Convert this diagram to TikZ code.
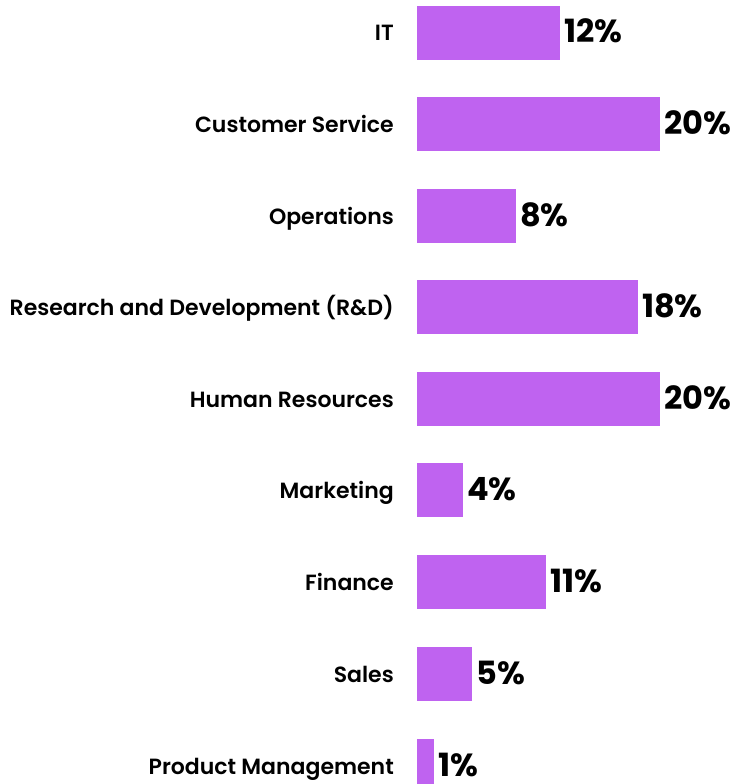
\documentclass[tikz,border=0pt]{standalone}
\usepackage{fontspec}
\setmainfont{Poppins}
\newfontfamily\labfont{Poppins}[UprightFont=* SemiBold]
\newfontfamily\pctfont{Poppins}[UprightFont=* Bold]
\definecolor{barc}{HTML}{BF63F0}
\begin{document}
\begin{tikzpicture}[x=1pt,y=-1pt,
  bar/.style={fill=barc,draw=none},
  cat/.style={anchor=base east,inner sep=0pt,font=\labfont\fontsize{22}{26}\selectfont},
  pct/.style={anchor=base west,inner sep=0pt,font=\pctfont\fontsize{32}{36}\selectfont}]
\useasboundingbox (0,0) rectangle (734,784);
\foreach \name/\lab/\top/\right/\p in {
  it/IT/6/560/12\%,
  cs/Customer Service/97/660/20\%,
  op/Operations/189/516/8\%,
  rd/Research and Development (R\&D)/280/638/18\%,
  hr/Human Resources/372/660/20\%,
  mk/Marketing/463/463/4\%,
  fi/Finance/555/546/11\%,
  sa/Sales/647/472/5\%,
  pm/Product Management/739/434/1\%}{
  \fill[bar] (417,\top) rectangle (\right,\top+54) coordinate (\name-br);
  \node[cat] (\name-lab) at (394,\top+35) {\lab};
  \node[pct] (\name-pct) at (\right+4,\top+37) {\p};
}
\end{tikzpicture}
\end{document}
